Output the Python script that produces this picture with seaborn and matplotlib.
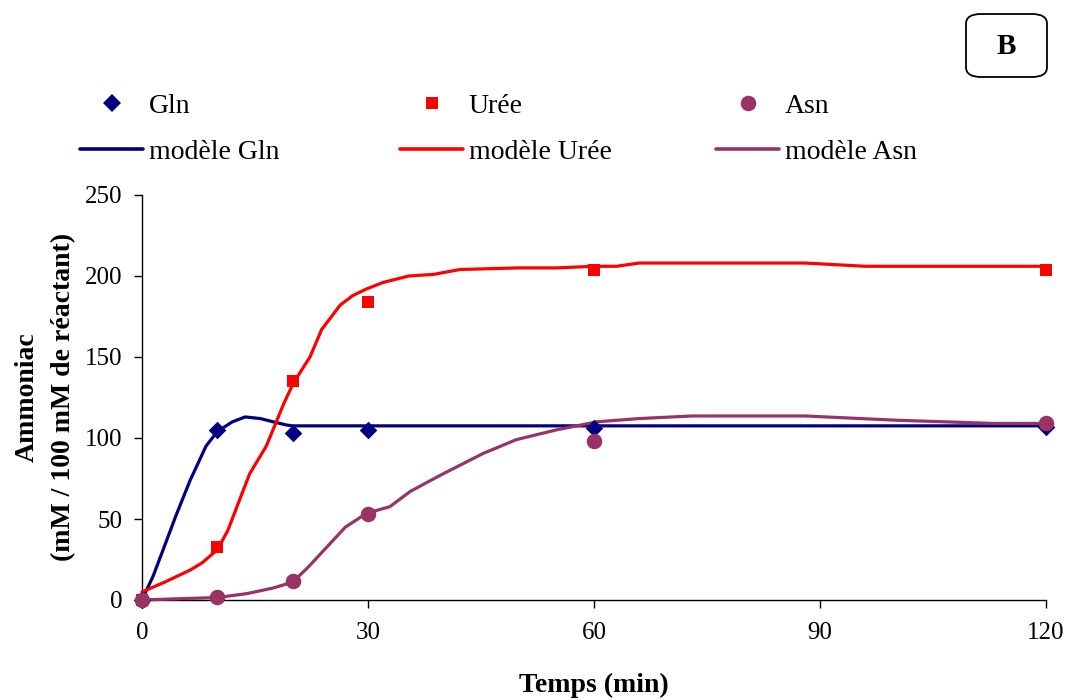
import matplotlib
matplotlib.use("Agg")
import matplotlib.pyplot as plt
import seaborn as sns
import pandas as pd
from matplotlib.patches import FancyBboxPatch
from matplotlib.lines import Line2D

# ---- measured data ----
t_data = [0, 10, 20, 30, 60, 120]
gln_data = [0, 105, 103, 105, 106, 107]
uree_data = [0, 33, 135, 184, 204, 204]
asn_data = [0, 2, 12, 53, 98, 109]

# ---- model curves ----
gln_model_t = [0, 1.5, 2.8, 4.5, 6.4, 8.5, 10, 12, 13.7, 15.7, 17.4, 19.2, 20, 30, 60, 90, 120]
gln_model_y = [0, 15, 31, 52, 74, 95, 104, 110, 113, 112, 110, 108, 107.5, 107.5, 107.5, 107.5, 107.5]

uree_model_t = [0, 3, 6.4, 8, 10, 11.4, 12.8, 14.3, 16.5, 18.8, 20.1, 22.3, 23.85, 26.3, 28,
                29.8, 32, 35.4, 38.7, 42.2, 50, 55, 60, 63, 66, 88, 96, 120]
uree_model_y = [5, 11, 18.5, 23, 31, 43, 60, 78, 95, 121, 134, 150, 167, 182, 188,
                192, 196, 200, 201, 204, 205, 205, 206, 206, 208, 208, 206, 206]

asn_model_t = [0, 5, 10, 14, 17.4, 20, 22, 25, 27, 29.8, 32.9, 35.6, 39.6, 45.3, 49.7, 55,
               60.4, 66, 73, 88, 100, 113, 120]
asn_model_y = [0, 0.8, 1.5, 4, 7.4, 11, 20, 35, 45, 53.5, 57.6, 67, 77, 90.5, 99, 105,
               110, 112, 113.6, 113.6, 111, 109, 109]

series_names = ["Gln", "Urée", "Asn"]
model_names = ["modèle Gln", "modèle Urée", "modèle Asn"]
colors = ["#000080", "#FF0000", "#993366"]
markers = ["D", "s", "o"]
msizes = [80, 82, 125]

sns.set_theme(style="white")
plt.rcParams["font.family"] = ["Liberation Serif", "DejaVu Serif"]
plt.rcParams["text.color"] = "black"
plt.rcParams["axes.labelcolor"] = "black"
plt.rcParams["xtick.color"] = "black"
plt.rcParams["ytick.color"] = "black"

fig = plt.figure(figsize=(10.68, 7.0), dpi=100)
ax = fig.add_axes([142 / 1068, 100 / 700, 904 / 1068, 405 / 700])

models = [(gln_model_t, gln_model_y), (uree_model_t, uree_model_y), (asn_model_t, asn_model_y)]
datas = [gln_data, uree_data, asn_data]

for (mt, my), c in zip(models, colors):
    dfm = pd.DataFrame({"t": mt, "y": my})
    sns.lineplot(data=dfm, x="t", y="y", ax=ax, color=c, linewidth=2.3,
                 estimator=None, sort=False, clip_on=False, zorder=3)

for yd, c, m, s in zip(datas, colors, markers, msizes):
    dfd = pd.DataFrame({"t": t_data, "y": yd})
    sns.scatterplot(data=dfd, x="t", y="y", ax=ax, color=c, marker=m, s=s,
                    linewidth=0, clip_on=False, zorder=4)

ax.set_xlim(0, 120)
ax.set_ylim(0, 250)
ax.set_xticks([0, 30, 60, 90, 120])
ax.set_yticks([0, 50, 100, 150, 200, 250])
ax.set_xlabel("")
ax.set_ylabel("")
for sp in ["top", "right"]:
    ax.spines[sp].set_visible(False)
for sp in ["left", "bottom"]:
    ax.spines[sp].set_color("black")
    ax.spines[sp].set_linewidth(1.0)
ax.tick_params(axis="both", which="major", direction="out", length=6, width=1.0,
               color="black", labelsize=18, labelcolor="black", left=True, bottom=True)
ax.tick_params(axis="y", pad=8)
ax.tick_params(axis="x", pad=10)
ax.grid(False)

fig.text(594 / 1068, 1 - 685 / 700, "Temps (min)", ha="center", va="center",
         fontsize=20, fontweight="bold", color="black")
fig.text(45 / 1068, 1 - 397 / 700, "Ammoniac\n(mM / 100 mM de réactant)", ha="center",
         va="center", rotation=90, fontsize=20, fontweight="bold", linespacing=1.6,
         multialignment="center", color="black")

# legends: three columns placed individually
col_x = [80, 400, 716]
for i in range(3):
    h_pt = Line2D([], [], color=colors[i], marker=markers[i], linestyle="none",
                  markersize=[9.0, 9.0, 11.2][i], markeredgewidth=0)
    h_ln = Line2D([], [], color=colors[i], linewidth=2.6)
    leg = fig.legend([h_pt, h_ln], [series_names[i], model_names[i]],
                     loc="center left", bbox_to_anchor=(col_x[i] / 1068, 1 - 129 / 700),
                     frameon=False, fontsize=20, handlelength=2.27, handletextpad=0.2,
                     labelspacing=0.75, borderpad=0, borderaxespad=0)
    for txt in leg.get_texts():
        txt.set_color("black")

# "B" box
box = FancyBboxPatch((966 / 1068, 1 - 77 / 700), 81 / 1068, 63 / 700,
                     boxstyle="round,pad=0,rounding_size=0.014", transform=fig.transFigure,
                     facecolor="white", edgecolor="black", linewidth=1.3)
fig.patches.append(box)
fig.text(1006 / 1068, 1 - 46 / 700, "B", ha="center", va="center", fontsize=21,
         fontweight="bold", color="black")

fig.savefig("out.png", dpi=100)
